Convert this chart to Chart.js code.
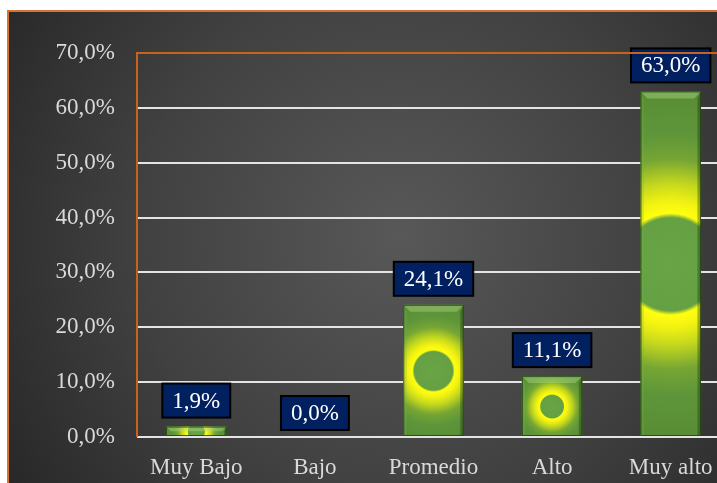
<!DOCTYPE html>
<html>
<head>
<meta charset="utf-8">
<script src="https://cdn.jsdelivr.net/npm/chart.js@4/dist/chart.umd.min.js"></script>
<style>
  html, body { margin: 0; padding: 0; background: #ffffff; }
  #wrap { width: 717px; height: 483px; overflow: hidden; position: relative; }
  canvas { display: block; }
</style>
</head>
<body>
<div id="wrap"><canvas id="chart" width="745" height="500"></canvas></div>
<script>
// Nivel alcanzado por categoría (%)
const categories = ['Muy Bajo', 'Bajo', 'Promedio', 'Alto', 'Muy alto'];
const percentages = [1.9, 0.0, 24.1, 11.1, 63.0];
const yTickLabels = ['0,0%', '10,0%', '20,0%', '30,0%', '40,0%', '50,0%', '60,0%', '70,0%'];

const SERIF = '"Liberation Serif", "Times New Roman", serif';
const BAR_FRACTION = 0.51;
const fmt = v => v.toFixed(1).replace('.', ',') + '%';

// Dark radial background with orange frame
const backdrop = {
  id: 'backdrop',
  beforeDraw(chart) {
    const { ctx, width, height } = chart;
    ctx.save();
    ctx.fillStyle = '#ffffff';
    ctx.fillRect(0, 0, width, height);
    const g = ctx.createRadialGradient(400, 235, 0, 400, 235, 470);
    g.addColorStop(0, '#585858');
    g.addColorStop(0.55, '#414141');
    g.addColorStop(1, '#272727');
    ctx.fillStyle = g;
    ctx.fillRect(8, 11, width - 8, height - 11);
    ctx.strokeStyle = '#d8732f';
    ctx.lineWidth = 2;
    ctx.beginPath();
    ctx.moveTo(8, height);
    ctx.lineTo(8, 11);
    ctx.lineTo(width, 11);
    ctx.stroke();
    ctx.restore();
  }
};

// Green centre, yellow ring, green rim: radial fill sized on the bar's half-diagonal
function barFill(context) {
  const chart = context.chart;
  const xs = chart.scales.x, ys = chart.scales.y;
  if (!chart.chartArea || !xs || !ys || context.type !== 'data') return '#5b9038';
  const i = context.dataIndex;
  const x = xs.getPixelForValue(i);
  const top = ys.getPixelForValue(percentages[i]);
  const base = ys.getPixelForValue(0);
  const w = (xs.width / categories.length) * BAR_FRACTION;
  const h = Math.abs(base - top);
  const cy = (top + base) / 2;
  const r = Math.max(1, Math.sqrt(w * w + h * h) / 2);
  const g = chart.ctx.createRadialGradient(x, cy, 0, x, cy, r);
  g.addColorStop(0, '#69a447');
  g.addColorStop(0.265, '#65a043');
  g.addColorStop(0.29, '#ffff10');
  g.addColorStop(0.36, '#f2f212');
  g.addColorStop(0.46, '#c4d81e');
  g.addColorStop(0.6, '#76a534');
  g.addColorStop(0.75, '#5e953a');
  g.addColorStop(1, '#588c34');
  return g;
}

// Bevel edges and value boxes
const barStyle = {
  id: 'barStyle',
  afterDatasetsDraw(chart) {
    const { ctx } = chart;
    const meta = chart.getDatasetMeta(0);
    meta.data.forEach((el, i) => {
      const { x, y, base, width } = el.getProps(['x', 'y', 'base', 'width'], true);
      const h = base - y;
      const l = x - width / 2, rgt = x + width / 2;
      if (h >= 1) {
        const b = Math.min(7, h / 2);
        ctx.save();
        ctx.fillStyle = 'rgba(170,215,130,0.45)';
        ctx.beginPath();
        ctx.moveTo(l, y); ctx.lineTo(rgt, y); ctx.lineTo(rgt - b, y + b); ctx.lineTo(l + b, y + b);
        ctx.closePath(); ctx.fill();
        ctx.fillStyle = 'rgba(120,180,80,0.25)';
        ctx.beginPath();
        ctx.moveTo(l, y); ctx.lineTo(l + b * 0.5, y + b); ctx.lineTo(l + b * 0.5, base); ctx.lineTo(l, base);
        ctx.closePath(); ctx.fill();
        ctx.fillStyle = 'rgba(20,50,10,0.35)';
        ctx.beginPath();
        ctx.moveTo(rgt, y); ctx.lineTo(rgt - b * 0.5, y + b); ctx.lineTo(rgt - b * 0.5, base); ctx.lineTo(rgt, base);
        ctx.closePath(); ctx.fill();
        ctx.strokeStyle = 'rgba(30,60,15,0.8)';
        ctx.lineWidth = 1;
        ctx.strokeRect(l + 0.5, y + 0.5, width - 1, h - 1);
        ctx.restore();
      }
      const txt = fmt(percentages[i]);
      ctx.save();
      ctx.font = '23px ' + SERIF;
      const tw = ctx.measureText(txt).width;
      const bw = tw + 20, bh = 34;
      const by = y - (h >= 1 ? 9 : 7) - bh;
      ctx.fillStyle = '#002060';
      ctx.fillRect(x - bw / 2, by, bw, bh);
      ctx.strokeStyle = '#000000';
      ctx.lineWidth = 2;
      ctx.strokeRect(x - bw / 2, by, bw, bh);
      ctx.fillStyle = '#ffffff';
      ctx.textAlign = 'center';
      ctx.textBaseline = 'middle';
      ctx.fillText(txt, x, by + bh / 2 + 1);
      ctx.restore();
    });
  },
  afterDraw(chart) {
    const { ctx, chartArea } = chart;
    ctx.save();
    ctx.strokeStyle = '#c8621d';
    ctx.lineWidth = 2;
    ctx.beginPath();
    ctx.moveTo(chartArea.left, chartArea.bottom);
    ctx.lineTo(chartArea.left, chartArea.top);
    ctx.lineTo(chart.width, chartArea.top);
    ctx.stroke();
    ctx.restore();
  }
};

new Chart(document.getElementById('chart'), {
  type: 'bar',
  data: {
    labels: categories,
    datasets: [{
      data: percentages,
      backgroundColor: barFill,
      borderWidth: 0,
      barPercentage: 1,
      categoryPercentage: BAR_FRACTION
    }]
  },
  options: {
    responsive: false,
    animation: false,
    devicePixelRatio: 1,
    layout: { padding: { top: 53, right: 15, left: 0, bottom: 0 } },
    plugins: { legend: { display: false }, tooltip: { enabled: false } },
    scales: {
      x: {
        grid: { display: false },
        border: { display: false },
        ticks: { color: '#d9d9d9', font: { family: SERIF, size: 23 }, padding: 9 },
        afterFit(scale) { scale.height = 63; }
      },
      y: {
        min: 0, max: 70,
        ticks: {
          stepSize: 10,
          color: '#d9d9d9',
          font: { family: SERIF, size: 23 },
          padding: 22,
          callback: (v, idx) => yTickLabels[idx]
        },
        grid: { color: '#e4e4e4', lineWidth: 2, drawTicks: false },
        border: { display: false },
        afterFit(scale) { scale.width = 137; }
      }
    }
  },
  plugins: [backdrop, barStyle]
});
</script>
</body>
</html>
